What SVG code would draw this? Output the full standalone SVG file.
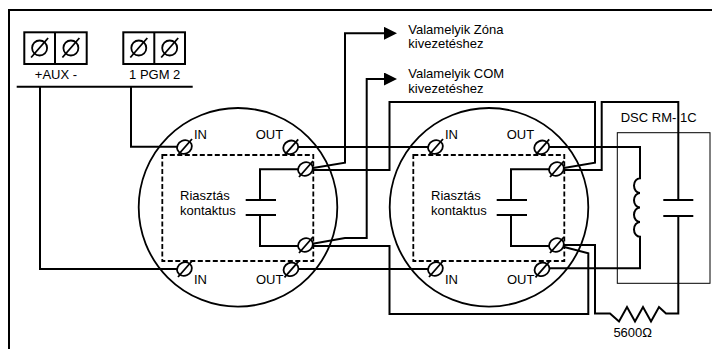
<svg xmlns="http://www.w3.org/2000/svg" width="712" height="349" viewBox="0 0 712 349">
<style>
.w{fill:none;stroke:#000;stroke-width:2}
text{font-family:"Liberation Sans",Arial,sans-serif;font-size:13px;fill:#000}
.ring{fill:none;stroke:#000;stroke-width:1.8}
.dash{fill:none;stroke:#000;stroke-width:1.8;stroke-dasharray:5 2.5}
.thin{fill:none;stroke:#000;stroke-width:1}
</style>
<defs>
<g id="tm"><ellipse rx="7.6" ry="6.6" transform="rotate(-25)" fill="#fff" stroke="#000" stroke-width="1.8"/><line x1="-6.5" y1="8" x2="7.5" y2="-8" stroke="#000" stroke-width="1.8"/></g>
<g id="tb"><circle r="7.5" fill="none" stroke="#000" stroke-width="1.8"/><line x1="-8.5" y1="9.5" x2="8.5" y2="-10" stroke="#000" stroke-width="1.8"/></g>
<marker id="arr" markerWidth="14" markerHeight="14" refX="2" refY="6.5" orient="auto" markerUnits="userSpaceOnUse"><path d="M0,0 L13,6.5 L0,13 z" fill="#000"/></marker>
</defs>

<rect id="frame" x="9" y="10" width="720" height="360" class="w"/>

<g id="panel">
  <rect x="24.3" y="32.3" width="62.4" height="31.7" class="w"/>
  <line x1="55" y1="32.3" x2="55" y2="64" class="w"/>
  <rect x="123.3" y="32.3" width="61.7" height="31.7" class="w"/>
  <line x1="154.3" y1="32.3" x2="154.3" y2="64" class="w"/>
  <use href="#tb" x="39.6" y="48"/>
  <use href="#tb" x="70.9" y="48"/>
  <use href="#tb" x="138.8" y="48"/>
  <use href="#tb" x="169.7" y="48"/>
  <text x="56" y="79" text-anchor="middle">+AUX -</text>
  <text x="154.7" y="79" text-anchor="middle">1 PGM 2</text>
  <line x1="16.7" y1="86.7" x2="192.7" y2="86.7" class="w"/>
</g>

<g id="connectors">
  <path class="w" d="M131,86.7 V146.8 H184"/>
  <path class="w" d="M40,86.7 V269 H184"/>
  <path class="w" d="M305.5,169.3 L345,162.7 V33.3 H386" marker-end="url(#arr)"/>
  <path class="w" d="M305.5,245 L345,238 H366.7 V79 H386" marker-end="url(#arr)"/>
  <path class="w" d="M291,147 H435.5"/>
  <path class="w" d="M305.5,170 H389.5 V102 H595 V162.7 L556.5,169.3"/>
  <path class="w" d="M556.5,170 H601.7 V102 H678.3 V200"/>
  <path class="w" d="M678.3,216 V313.5 H666 L659,307 L651,321.5 L643,307 L635,321.5 L627,307 L619,321.5 L610,313.5 H595 V245 H556.5"/>
  <path class="w" d="M305.5,246 H389.5 V314 H588.3 V253.3 L556.5,245"/>
  <path class="w" d="M291,269 H435.5"/>
  <path class="w" d="M542,147 H640 V178.3 a6,7.3 0 0 0 0,14.6 a6,7.3 0 0 0 0,14.6 a6,7.3 0 0 0 0,14.6 a6,7.3 0 0 0 0,14.6 V268.3 H542"/>
</g>

<g id="detector1">
  <circle cx="238" cy="207.3" r="99.3" class="ring"/>
  <rect x="162.3" y="155" width="151" height="106" class="dash"/>
  <path class="w" d="M305.5,169.3 H260 V200 M245.7,200 H276 M245.7,215 H276 M260,215 V246 H305.5"/>
  <text x="180" y="200">Riasztás</text>
  <text x="180" y="215">kontaktus</text>
  <text x="194" y="139.3">IN</text>
  <text x="255.7" y="139.3">OUT</text>
  <text x="194" y="284">IN</text>
  <text x="256" y="284">OUT</text>
  <use href="#tm" x="184.5" y="147"/>
  <use href="#tm" x="290.7" y="147.3"/>
  <use href="#tm" x="305.5" y="169"/>
  <use href="#tm" x="305.5" y="245"/>
  <use href="#tm" x="184.5" y="269"/>
  <use href="#tm" x="291" y="269.3"/>
</g>

<g id="detector2" transform="translate(251,0)">
  <circle cx="238" cy="207.3" r="99.3" class="ring"/>
  <rect x="162.3" y="155" width="151" height="106" class="dash"/>
  <path class="w" d="M305.5,169.3 H260 V200 M245.7,200 H276 M245.7,215 H276 M260,215 V246 H305.5"/>
  <text x="180" y="200">Riasztás</text>
  <text x="180" y="215">kontaktus</text>
  <text x="194" y="139.3">IN</text>
  <text x="255.7" y="139.3">OUT</text>
  <text x="194" y="284">IN</text>
  <text x="256" y="284">OUT</text>
  <use href="#tm" x="184.5" y="147"/>
  <use href="#tm" x="290.7" y="147.3"/>
  <use href="#tm" x="305.5" y="169"/>
  <use href="#tm" x="305.5" y="245"/>
  <use href="#tm" x="184.5" y="269"/>
  <use href="#tm" x="291" y="269.3"/>
</g>

<g id="rm1c">
  <rect x="617.3" y="132.7" width="92.7" height="150.6" class="thin"/>
  <text x="620.7" y="122">DSC RM- 1C</text>
  <path class="w" d="M663.3,200 H693.3 M663.3,216 H693.3"/>
</g>

<g id="resistor">
  <text x="632.7" y="337" text-anchor="middle">5600Ω</text>
</g>

<g id="targets">
  <text x="408.3" y="33.5">Valamelyik Zóna</text>
  <text x="408.3" y="47.5">kivezetéshez</text>
  <text x="408.3" y="77.5">Valamelyik COM</text>
  <text x="408.3" y="93">kivezetéshez</text>
</g>
</svg>
